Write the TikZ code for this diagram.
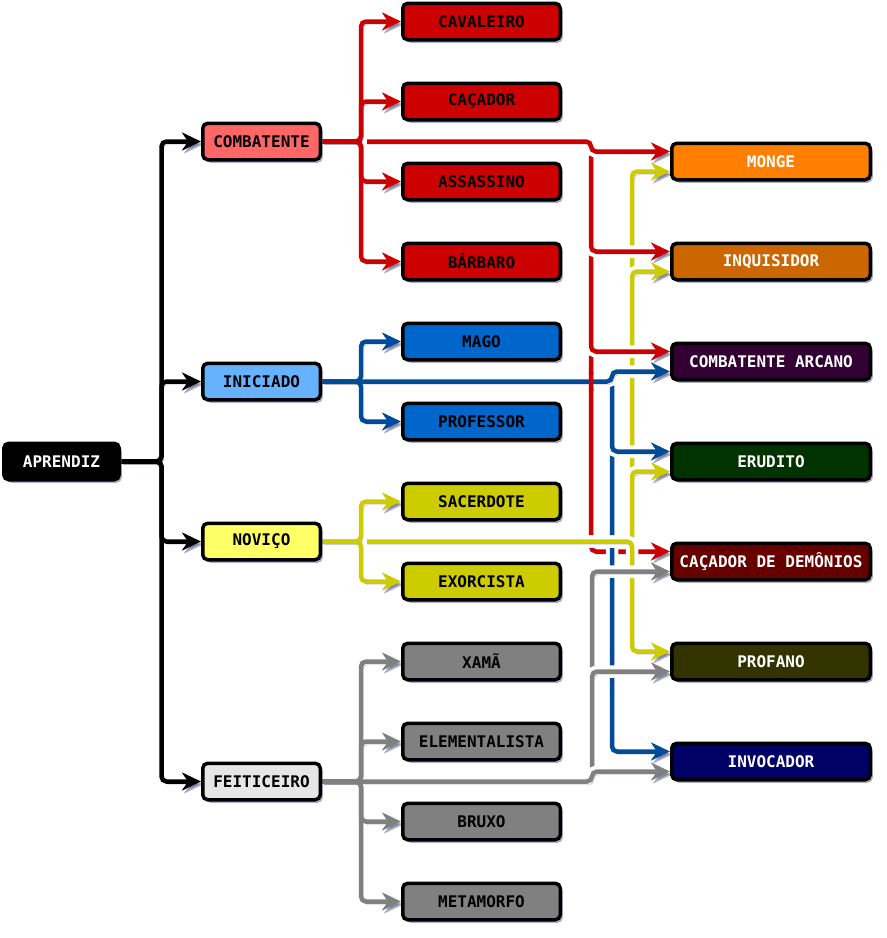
\documentclass[tikz,border=0pt]{standalone}
\usepackage{fontspec}
\setmonofont{DejaVu Sans Mono}
\usetikzlibrary{arrows.meta,shadows,calc}

% node fills
\definecolor{cBlack}{HTML}{000000}
\definecolor{cCombat}{HTML}{FF6666}
\definecolor{cInic}{HTML}{66B2FF}
\definecolor{cNovi}{HTML}{FFFF66}
\definecolor{cFeit}{HTML}{E6E6E6}
\definecolor{cRed}{HTML}{CC0000}
\definecolor{cBlue}{HTML}{0066CC}
\definecolor{cYel}{HTML}{CCCC00}
\definecolor{cGray}{HTML}{808080}
\definecolor{cMonge}{HTML}{FF8000}
\definecolor{cInq}{HTML}{CC6600}
\definecolor{cArc}{HTML}{330033}
\definecolor{cErud}{HTML}{003300}
\definecolor{cCD}{HTML}{660000}
\definecolor{cProf}{HTML}{333300}
\definecolor{cInv}{HTML}{000066}
% connector colours
\definecolor{wBlue}{HTML}{004C99}
\definecolor{shade}{HTML}{5C5C8A}

\pgfdeclarelayer{edges}
\pgfsetlayers{edges,main}

\begin{document}
\begin{tikzpicture}[x=1pt,y=-1pt,
  box/.style={draw=black, line width=3.5pt, rounded corners=5pt,
    minimum height=36.5pt, inner sep=0pt,
    font=\ttfamily\bfseries\fontsize{16}{18}\selectfont,
    drop shadow={shadow xshift=2.5pt, shadow yshift=-3pt, fill=shade, opacity=0.5}},
  lvl1/.style={box, minimum width=117.5pt},
  lvl2/.style={box, minimum width=157.5pt},
  lvl3/.style={box, minimum width=198.5pt, text=white},
  wire/.style={draw=#1, line width=4.5pt, rounded corners=5pt,
    -{Stealth[length=19pt,width=18pt,inset=6pt]},
    preaction={draw=shade, opacity=0.5,
      transform canvas={shift={(2pt,-3pt)}}}},
  halo/.style={draw=white, line width=12.5pt},
  gapped/.style={preaction={halo, -}}
]
\useasboundingbox (0,0) rectangle (887,938);

% ---------- root ----------
\node[box, fill=cBlack, text=white, minimum width=115.5pt] (aprendiz) at (61.5,461.5) {APRENDIZ};

% ---------- first level ----------
\node[lvl1, fill=cCombat] (combatente) at (261.5,141.5) {COMBATENTE};
\node[lvl1, fill=cInic]   (iniciado)   at (261.5,381.5) {INICIADO};
\node[lvl1, fill=cNovi]   (novico)     at (261.5,541.5) {NOVIÇO};
\node[lvl1, fill=cFeit]   (feiticeiro) at (261.5,781.5) {FEITICEIRO};

% ---------- second level ----------
\node[lvl2, fill=cRed]  (cavaleiro)     at (481.5, 21.5) {CAVALEIRO};
\node[lvl2, fill=cRed]  (cacador)       at (481.5,101.5) {CAÇADOR};
\node[lvl2, fill=cRed]  (assassino)     at (481.5,181.5) {ASSASSINO};
\node[lvl2, fill=cRed]  (barbaro)       at (481.5,261.5) {BÁRBARO};
\node[lvl2, fill=cBlue] (mago)          at (481.5,341.5) {MAGO};
\node[lvl2, fill=cBlue] (professor)     at (481.5,421.5) {PROFESSOR};
\node[lvl2, fill=cYel]  (sacerdote)     at (481.5,501.5) {SACERDOTE};
\node[lvl2, fill=cYel]  (exorcista)     at (481.5,581.5) {EXORCISTA};
\node[lvl2, fill=cGray] (xama)          at (481.5,661.5) {XAMÃ};
\node[lvl2, fill=cGray] (elementalista) at (481.5,741.5) {ELEMENTALISTA};
\node[lvl2, fill=cGray] (bruxo)         at (481.5,821.5) {BRUXO};
\node[lvl2, fill=cGray] (metamorfo)     at (481.5,901.5) {METAMORFO};

% ---------- hybrid classes ----------
\node[lvl3, fill=cMonge] (monge)     at (771,161.5) {MONGE};
\node[lvl3, fill=cInq]   (inq)       at (771,261.5) {INQUISIDOR};
\node[lvl3, fill=cArc]   (arcano)    at (771,361.5) {COMBATENTE ARCANO};
\node[lvl3, fill=cErud]  (erudito)   at (771,461.5) {ERUDITO};
\node[lvl3, fill=cCD]    (cd)        at (771,561.5) {CAÇADOR DE DEMÔNIOS};
\node[lvl3, fill=cProf]  (profano)   at (771,661.5) {PROFANO};
\node[lvl3, fill=cInv]   (invocador) at (771,761.5) {INVOCADOR};

% entry points: upper and lower quarter of each hybrid box
\foreach \n in {monge,inq,arcano,erudito,cd,profano,invocador}{
  \coordinate (\n-u) at ($(\n.north west)!.25!(\n.south west)$);
  \coordinate (\n-d) at ($(\n.north west)!.75!(\n.south west)$);
}

% junctions and vertical buses
\coordinate (jA) at (161.5,461.5);
\coordinate (jC) at (361,141.5);
\coordinate (jI) at (361,381.5);
\coordinate (jN) at (361,541.5);
\coordinate (jF) at (361,781.5);
\coordinate (xR) at (591,0);
\coordinate (xB) at (612,0);
\coordinate (xY) at (632,0);
\coordinate (xG) at (592,0);

\begin{pgfonlayer}{edges}
  % root to first level
  \draw[wire=black] (aprendiz.east) -- (jA) |- (combatente.west);
  \draw[wire=black] (aprendiz.east) -- (jA) |- (iniciado.west);
  \draw[wire=black] (aprendiz.east) -- (jA) |- (novico.west);
  \draw[wire=black] (aprendiz.east) -- (jA) |- (feiticeiro.west);

  % novice to monk and inquisitor
  \draw[gapped, wire=cYel] (novico.east) -| (xY |- monge-d) -- (monge-d);
  \draw[gapped, wire=cYel] (novico.east) -| (xY |- inq-d) -- (inq-d);

  % fighter to hybrids
  \draw[gapped, wire=cRed] (combatente.east) -| (xR |- cd-u) -- (cd-u);
  \draw[gapped, wire=cRed] (combatente.east) -| (xR |- arcano-u) -- (arcano-u);
  \draw[gapped, wire=cRed] (combatente.east) -| (xR |- inq-u) -- (inq-u);
  \draw[gapped, wire=cRed] (combatente.east) -| (xR |- monge-u) -- (monge-u);

  % initiate to hybrids
  \draw[gapped, wire=wBlue] (iniciado.east) -| (xB |- invocador-u) -- (invocador-u);
  \draw[gapped, wire=wBlue] (iniciado.east) -| (xB |- erudito-u) -- (erudito-u);
  \draw[gapped, wire=wBlue] (iniciado.east) -| (xB |- arcano-d) -- (arcano-d);

  % novice to scholar and profane
  \draw[gapped, wire=cYel] (novico.east) -| (xY |- erudito-d) -- (erudito-d);
  \draw[gapped, wire=cYel] (novico.east) -| (xY |- profano-u) -- (profano-u);

  % sorcerer to hybrids
  \draw[gapped, wire=cGray] (feiticeiro.east) -| (xG |- cd-d) -- (cd-d);
  \draw[gapped, wire=cGray] (feiticeiro.east) -| (xG |- profano-d) -- (profano-d);
  \draw[gapped, wire=cGray] (feiticeiro.east) -| (xG |- invocador-d) -- (invocador-d);

  % first level to second level: clearing strokes first, then the lines
  \foreach \t in {cavaleiro,cacador,assassino,barbaro}
    \draw[halo] (combatente.east) -- (jC) |- (\t.west);
  \foreach \t in {sacerdote,exorcista}
    \draw[halo] (novico.east) -- (jN) |- (\t.west);
  \foreach \t in {cavaleiro,cacador,assassino,barbaro}
    \draw[wire=cRed] (combatente.east) -- (jC) |- (\t.west);
  \foreach \t in {mago,professor}
    \draw[wire=wBlue] (iniciado.east) -- (jI) |- (\t.west);
  \foreach \t in {sacerdote,exorcista}
    \draw[wire=cYel] (novico.east) -- (jN) |- (\t.west);
  \foreach \t in {xama,elementalista,bruxo,metamorfo}
    \draw[wire=cGray] (feiticeiro.east) -- (jF) |- (\t.west);

  % the red bus passes over the blue line here
  \begin{scope}
    \clip ($(xR |- iniciado.east)+(-9,-9)$) rectangle ($(xR |- iniciado.east)+(9,9)$);
    \draw[wire=cRed] (combatente.east) -| (xR |- cd-u) -- (cd-u);
  \end{scope}
\end{pgfonlayer}
\end{tikzpicture}
\end{document}
